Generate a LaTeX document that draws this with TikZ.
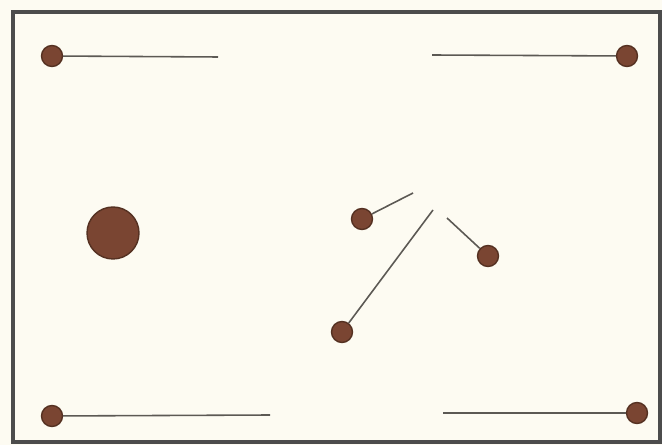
\documentclass[tikz,border=0pt]{standalone}
\usepackage{xcolor}
\usepackage{tikz}
\definecolor{paper}{HTML}{FDFBF2}
\definecolor{ballbrown}{HTML}{7A4532}
\definecolor{balledge}{HTML}{553122}
\definecolor{stick}{HTML}{5C5954}

\begin{document}
\begin{tikzpicture}[x=0.02cm,y=-0.02cm,
  ball/.style={circle,fill=ballbrown,draw=balledge,line width=0.8pt,inner sep=0pt,minimum size=0.42cm},
  bigball/.style={ball,minimum size=1.04cm},
  cue/.style={stick,line width=0.9pt}]
\fill[paper] (0,0) rectangle (662,445);
\draw[line width=2pt,black!70] (13,12) rectangle (660,442);
% corner balls with cues
\node[ball] (tl) at (52,56) {};
\node[ball] (tr) at (627,56) {};
\node[ball] (bl) at (52,416) {};
\node[ball] (br) at (637,413) {};
\coordinate (tlend) at (218,57);
\coordinate (trend) at (432,55);
\coordinate (blend) at (270,415);
\coordinate (brend) at (443,413);
\draw[cue] (tl)--(tlend);
\draw[cue] (tr)--(trend);
\draw[cue] (bl)--(blend);
\draw[cue] (br)--(brend);
% big ball
\node[bigball] (big) at (113,233) {};
% middle group
\node[ball] (ma) at (362,219) {};
\node[ball] (mb) at (488,256) {};
\node[ball] (mc) at (342,332) {};
\coordinate (maend) at (413,193);
\coordinate (mbend) at (447,218);
\coordinate (mcend) at (433,210);
\draw[cue] (ma)--(maend);
\draw[cue] (mb)--(mbend);
\draw[cue] (mc)--(mcend);
\end{tikzpicture}
\end{document}
